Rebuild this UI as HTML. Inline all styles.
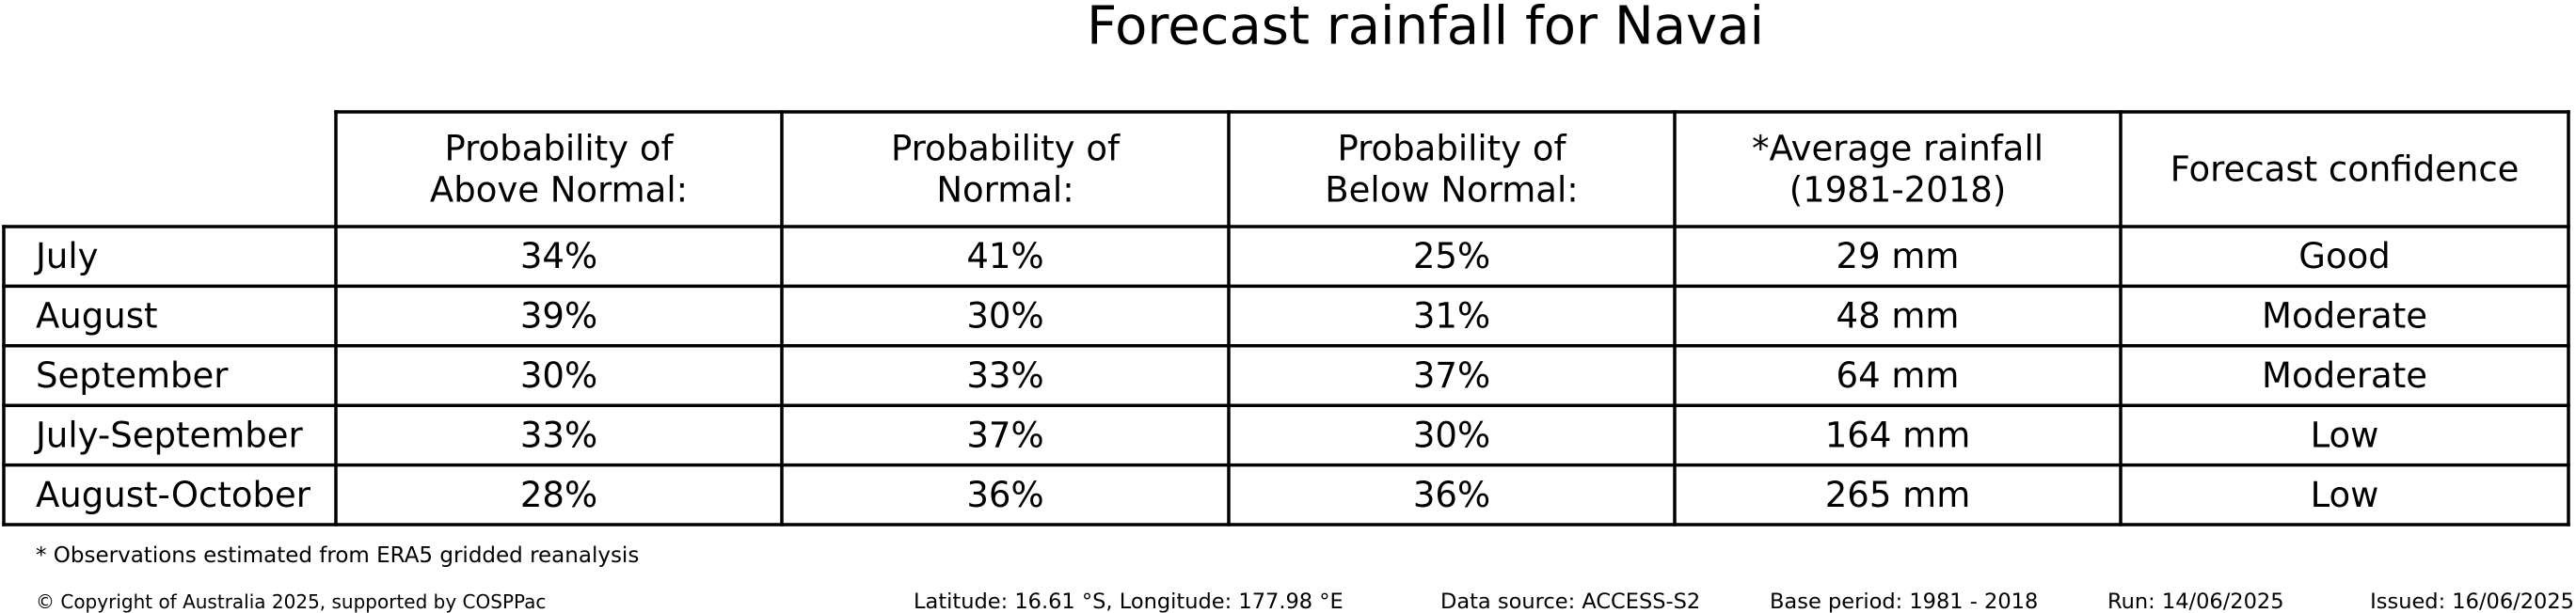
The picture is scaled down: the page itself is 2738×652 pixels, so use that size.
<!DOCTYPE html>
<html><head><meta charset="utf-8"><style>
html,body{margin:0;padding:0;background:#fff;}
svg{display:block;font-family:"DejaVu Sans","Liberation Sans",sans-serif;}
</style></head><body>
<svg id="chart" width="2738" height="652" viewBox="0 0 2738 652" xmlns="http://www.w3.org/2000/svg">
<text x="1515" y="28" font-size="56" text-anchor="middle" dominant-baseline="central">Forecast rainfall for Navai</text>
<g id="grid"></g>
<g id="cells"></g>
<text x="38" y="591" font-size="23" dominant-baseline="central">* Observations estimated from ERA5 gridded reanalysis</text>
<text x="38" y="640" font-size="20" dominant-baseline="central">© Copyright of Australia 2025, supported by COSPPac</text>
<text x="971" y="640" font-size="22.5" dominant-baseline="central">Latitude: 16.61 °S, Longitude: 177.98 °E</text>
<text x="1531" y="640" font-size="22.5" dominant-baseline="central">Data source: ACCESS-S2</text>
<text x="1881" y="640" font-size="22.5" dominant-baseline="central">Base period: 1981 - 2018</text>
<text x="2240" y="640" font-size="22.5" dominant-baseline="central">Run: 14/06/2025</text>
<text x="2736" y="640" font-size="22.5" text-anchor="end" dominant-baseline="central">Issued: 16/06/2025</text>
</svg>
<script>
const rowLabels = ["July","August","September","July-September","August-October"];
const headers = [["Probability of","Above Normal:"],["Probability of","Normal:"],["Probability of","Below Normal:"],["*Average rainfall","(1981-2018)"],["Forecast confidence"]];
const aboveNormal = ["34%","39%","30%","33%","28%"];
const normal = ["41%","30%","33%","37%","36%"];
const belowNormal = ["25%","31%","37%","30%","36%"];
const avgRain = ["29 mm","48 mm","64 mm","164 mm","265 mm"];
const confidence = ["Good","Moderate","Moderate","Low","Low"];

const NS="http://www.w3.org/2000/svg";
const colX=[4,357,831,1306,1780,2254,2730];
const headTop=119, headBot=241, rowH=63.4;
const rowY=i=>headBot+i*rowH;
const grid=document.getElementById('grid'), cells=document.getElementById('cells');
function line(x1,y1,x2,y2){
  const l=document.createElementNS(NS,'line');
  l.setAttribute('x1',x1);l.setAttribute('y1',y1);l.setAttribute('x2',x2);l.setAttribute('y2',y2);
  l.setAttribute('stroke','#000');l.setAttribute('stroke-width','3.5');l.setAttribute('stroke-linecap','square');
  
  
  grid.appendChild(l);
}
function txt(x,y,s,anchor,size){
  const t=document.createElementNS(NS,'text');
  t.setAttribute('x',x);t.setAttribute('y',y);t.setAttribute('font-size',size||37);
  t.setAttribute('text-anchor',anchor||'middle');t.setAttribute('dominant-baseline','central');
  t.textContent=s;
  
  
  cells.appendChild(t);return t;
}
const n=rowLabels.length, bottom=rowY(n);
line(colX[1],headTop,colX[6],headTop);
for(let i=0;i<=n;i++) line(colX[0],rowY(i),colX[6],rowY(i));
line(colX[0],headBot,colX[0],bottom);
for(let c=1;c<colX.length;c++) line(colX[c],headTop,colX[c],bottom);
headers.forEach((h,c)=>{
  const cx=(colX[c+1]+colX[c+2])/2, mid=(headTop+headBot)/2;
  if(h.length===1){const t=txt(cx,mid,h[0]);}
  else{txt(cx,mid-22,h[0]);txt(cx,mid+22,h[1]);}
});
const cols=[aboveNormal,normal,belowNormal,avgRain,confidence];
rowLabels.forEach((r,i)=>{
  const cy=rowY(i)+rowH/2;
  const lt=txt(38,cy,r,'start');
  
  cols.forEach((arr,c)=>{txt((colX[c+1]+colX[c+2])/2,cy,arr[i]);});
});
</script>
</body></html>
